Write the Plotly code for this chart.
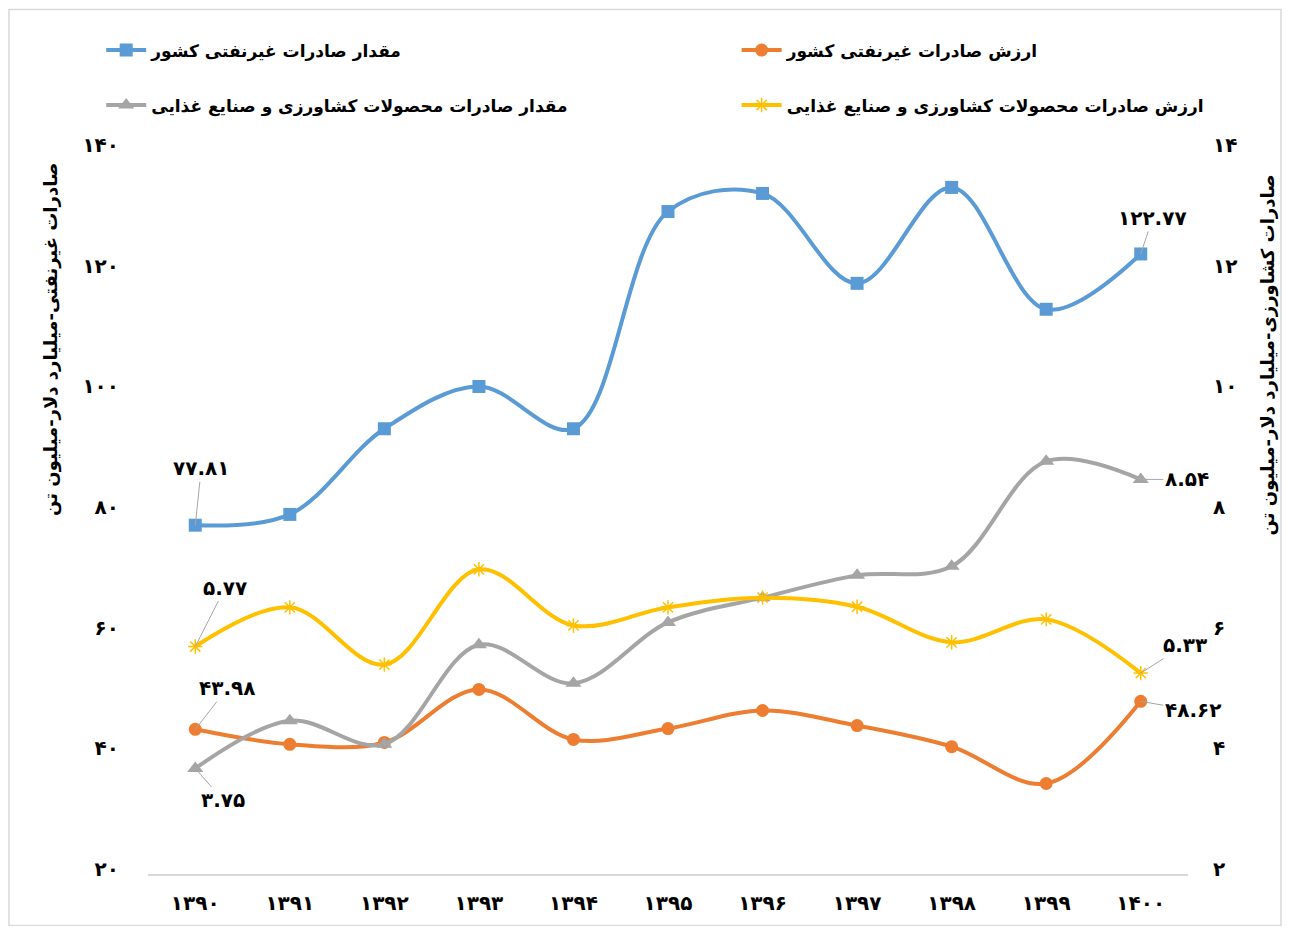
import plotly.graph_objects as go

years = ["۱۳۹۰", "۱۳۹۱", "۱۳۹۲", "۱۳۹۳", "۱۳۹۴", "۱۳۹۵", "۱۳۹۶", "۱۳۹۷", "۱۳۹۸", "۱۳۹۹", "۱۴۰۰"]

nonoil_volume = [77.81, 79.6, 93.8, 100.8, 93.8, 129.8, 132.8, 117.9, 133.8, 113.6, 122.77]
nonoil_value = [43.98, 41.5, 41.8, 50.6, 42.3, 44.1, 47.1, 44.6, 41.1, 35.0, 48.62]
agri_volume = [3.75, 4.54, 4.15, 5.80, 5.16, 6.17, 6.58, 6.95, 7.10, 8.84, 8.54]
agri_value = [5.77, 6.42, 5.47, 7.05, 6.12, 6.42, 6.58, 6.43, 5.84, 6.22, 5.33]

names = [
    "مقدار صادرات غیرنفتی کشور",
    "ارزش صادرات غیرنفتی کشور",
    "مقدار صادرات محصولات کشاورزی و صنایع غذایی",
    "ارزش صادرات محصولات کشاورزی و صنایع غذایی",
]

left_ticks = [20, 40, 60, 80, 100, 120, 140]
left_tick_text = ["۲۰", "۴۰", "۶۰", "۸۰", "۱۰۰", "۱۲۰", "۱۴۰"]
right_ticks = [2, 4, 6, 8, 10, 12, 14]
right_tick_text = ["۲", "۴", "۶", "۸", "۱۰", "۱۲", "۱۴"]

left_title = "صادرات غیرنفتی-میلیارد دلار-میلیون تن"
right_title = "صادرات کشاورزی-میلیارد دلار-میلیون تن"

FONT = "DejaVu Sans"
BLUE, ORANGE, GRAY, YELLOW = "#5B9BD5", "#ED7D31", "#A5A5A5", "#FFC000"

fig = go.Figure()
fig.add_trace(go.Scatter(x=years, y=nonoil_volume, name=names[0], mode="lines+markers",
                         line=dict(color=BLUE, width=4, shape="spline", smoothing=1),
                         marker=dict(symbol="square", size=13, color=BLUE), legend="legend"))
fig.add_trace(go.Scatter(x=years, y=nonoil_value, name=names[1], mode="lines+markers",
                         line=dict(color=ORANGE, width=4, shape="spline", smoothing=1),
                         marker=dict(symbol="circle", size=13, color=ORANGE), legend="legend2"))
fig.add_trace(go.Scatter(x=years, y=agri_volume, name=names[2], mode="lines+markers", yaxis="y2",
                         line=dict(color=GRAY, width=4, shape="spline", smoothing=1),
                         marker=dict(symbol="triangle-up", size=14, color=GRAY), legend="legend3"))
fig.add_trace(go.Scatter(x=years, y=agri_value, name=names[3], mode="lines+markers", yaxis="y2",
                         line=dict(color=YELLOW, width=4, shape="spline", smoothing=1),
                         marker=dict(symbol="asterisk-open", size=12, color=YELLOW,
                                     line=dict(color=YELLOW, width=1.5)), legend="legend4"))

def fa(v):
    s = f"{v:.2f}"
    return s.translate(str.maketrans("0123456789", "۰۱۲۳۴۵۶۷۸۹"))

labels = [
    (0, nonoil_volume, "y", 6, -57),
    (10, nonoil_volume, "y", 12, -36),
    (0, agri_value, "y2", 30, -59),
    (0, nonoil_value, "y", 32, -41),
    (0, agri_volume, "y2", 28, 32),
    (10, agri_volume, "y2", 46, 0),
    (10, agri_value, "y2", 44, -28),
    (10, nonoil_value, "y", 52, 9),
]
annotations = []
for idx, series, yref, ax, ay in labels:
    annotations.append(dict(
        x=years[idx], y=series[idx], xref="x", yref=yref, text=fa(series[idx]),
        showarrow=True, arrowhead=0, arrowwidth=1, arrowcolor="#A6A6A6",
        ax=ax, ay=ay, font=dict(family=FONT, size=20, color="#000000", weight="bold"),
    ))

annotations.append(dict(text=left_title, xref="paper", yref="paper", x=-0.094, y=0.738,
                        xanchor="center", yanchor="middle",
                        textangle=-90, showarrow=False,
                        font=dict(family=FONT, size=18, color="#000000", weight="bold")))
annotations.append(dict(text=right_title, xref="paper", yref="paper", x=1.0765, y=0.717,
                        xanchor="center", yanchor="middle",
                        textangle=-90, showarrow=False,
                        font=dict(family=FONT, size=18, color="#000000", weight="bold")))

tickfont = dict(family=FONT, size=20, color="#000000", weight="bold")
legfont = dict(family=FONT, size=17, color="#000000", weight="bold")

def leg(x, y):
    return dict(orientation="h", x=x, y=y, xanchor="left", yanchor="middle",
                font=legfont, itemwidth=40, bgcolor="rgba(0,0,0,0)")

# The page adds an 8px body margin, so the figure is sized to fit inside the window
fig.update_layout(
    width=1274, height=918,
    margin=dict(l=140, r=94, t=142, b=52, autoexpand=False),
    paper_bgcolor="white", plot_bgcolor="white",
    showlegend=True,
    legend=leg(-0.045, 1.1374),
    legend2=leg(0.566, 1.1374),
    legend3=leg(-0.045, 1.0615),
    legend4=leg(0.566, 1.0615),
    xaxis=dict(type="category", range=[-0.5, 10.5], autorange=False, showgrid=False,
               showline=True, linecolor="#D9D9D9", linewidth=1.5,
               ticks="", tickfont=tickfont, ticklabelstandoff=10, zeroline=False),
    yaxis=dict(range=[20, 140], autorange=False, tickvals=left_ticks, ticktext=left_tick_text,
               showgrid=False, showline=False, zeroline=False, tickfont=tickfont,
               ticklabelstandoff=28, ticklabelshift=-5),
    yaxis2=dict(range=[2, 14], autorange=False, tickvals=right_ticks, ticktext=right_tick_text,
                overlaying="y", side="right", showgrid=False, showline=False, zeroline=False,
                tickfont=tickfont, ticklabelstandoff=24, ticklabelshift=-5),
    annotations=annotations,
    shapes=[dict(type="rect", xref="paper", yref="paper", x0=-0.1337, x1=1.0894, y0=-0.0711, y1=1.1940,
                 line=dict(color="#D9D9D9", width=1.5), fillcolor="rgba(0,0,0,0)", layer="below")],
)

fig.write_html("out.html")
